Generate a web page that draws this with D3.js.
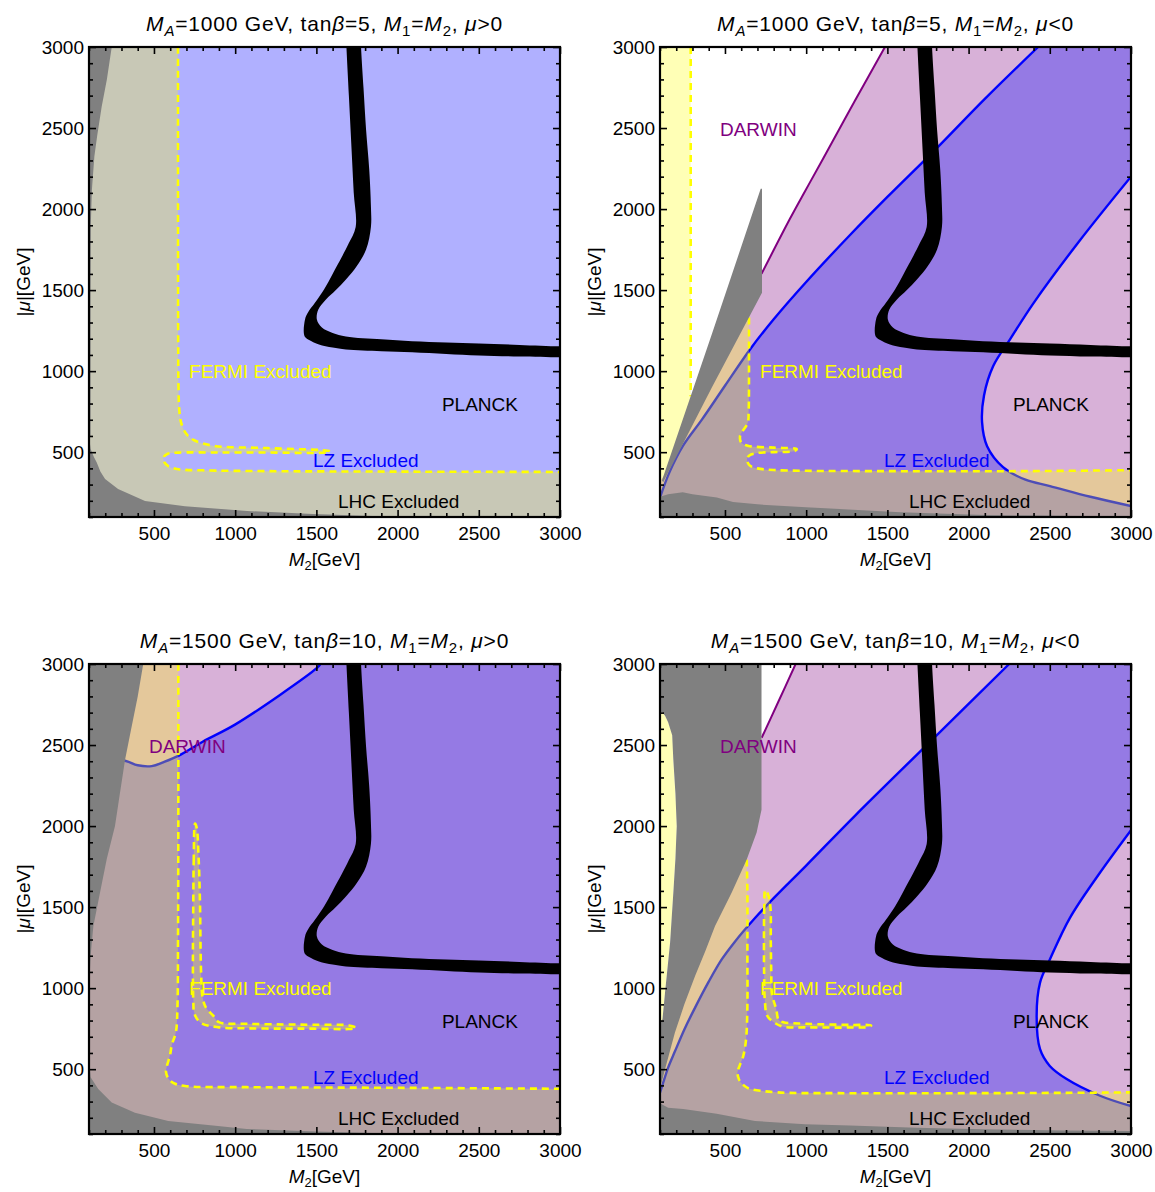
<!DOCTYPE html>
<html><head><meta charset="utf-8">
<script src="https://cdn.jsdelivr.net/npm/d3@7"></script>
<style>body{margin:0;background:#fff} svg{display:block}</style>
</head><body>
<svg id="c" width="1155" height="1192"></svg>
<script>
// ---------- axes ----------
const axisDomain = [100, 3000];
const majorTicks = [500, 1000, 1500, 2000, 2500, 3000];
const minorTicks = d3.range(100, 3001, 100).filter(v => v % 500 !== 0);

// ---------- titles ----------
const titleMA   = ["1000", "1000", "1500", "1500"];
const titleTanB = ["5", "5", "10", "10"];
const titleSign = [">", "<", ">", "<"];

// ---------- shared shapes (M2 [GeV], |mu| [GeV]) ----------
const fullPlane = [[100,100],[3000,100],[3000,3000],[100,3000]];
const planckBand = [[1680,3120],[1685,3000],[1700,2700],[1715,2400],[1730,2100],[1742,1890],[1700,1790],[1658,1707],[1600,1600],[1547,1504],[1490,1420],[1450,1365],[1430,1319],[1428,1214],[1470,1185],[1516,1165],[1600,1146],[1682,1134],[1900,1123],[2089,1116],[2300,1106],[2501,1097],[2750,1090],[3000,1085],[3120,1083],[3120,1152],[3000,1153],[2750,1162],[2501,1171],[2300,1177],[2089,1184],[1900,1196],[1682,1214],[1600,1236],[1534,1270],[1503,1319],[1512,1380],[1559,1442],[1620,1500],[1682,1565],[1750,1650],[1806,1750],[1836,1891],[1836,2015],[1825,2250],[1806,2489],[1790,2750],[1775,3000],[1772,3120]];

// ---------- panel 1: MA=1000, tanb=5, mu>0 ----------
const p1FermiLine = [[648,3000],[648,2000],[649,1200],[651,900],[656,760],[668,680],[700,612],[745,575],[863,540],[1200,525],[1584,506],[1560,498],[1200,498],[900,498],[650,497],[585,490],[560,470],[563,440],[590,412],[650,395],[800,388],[1200,383],[2000,380],[3000,378]];
const p1GrayTop = [[100,3000],[240,3000],[210,2800],[178,2632],[150,2450],[133,2325],[118,2120],[111,1900],[109,1400],[109,900],[109,600],[100,600]];
const p1GrayBottom = [[100,600],[110,520],[130,470],[147,438],[170,380],[199,334],[279,272],[445,198],[691,167],[1073,137],[1480,118],[1890,104],[2100,100],[100,100]];

// ---------- panel 2: MA=1000, tanb=5, mu<0 ----------
const p2FermiStrip = [[289,3000],[289,845]];
const p2FermiHidden = [[450,1080]];
const p2FermiLine = [[648,1331],[648,1000],[646,760],[640,680],[605,625],[593,600],[600,560],[640,540],[800,528],[942,519],[930,508],[800,500],[700,495],[650,480],[636,457],[650,420],[700,400],[800,390],[1000,385],[1500,383],[2000,382],[2500,384],[3000,389]];
const p2DarwinLine = [[1485,3000],[1300,2668],[1104,2310],[993,2110],[900,1940],[725,1600]];
const p2DarwinHidden = [[600,1400],[400,1000],[280,700],[140,380],[100,320]];
const p2LzLeft = [[2428,3000],[2100,2680],[1806,2378],[1500,2075],[1270,1840],[1000,1550],[800,1320],[654,1134],[500,910],[360,704],[242,540],[160,380],[100,220]];
const p2LzRight = [[3000,2200],[2680,1800],[2400,1420],[2255,1196],[2151,1030],[2095,850],[2083,685],[2114,537],[2212,408],[2350,330],[2501,291],[2750,225],[3000,168]];
const p2GrayWedge = [[720,2125],[728,2125],[728,1484],[420,900],[120,314],[112,325],[420,1230]];
const p2GrayBottom = [[100,225],[150,240],[240,252],[300,240],[450,221],[550,192],[700,178],[1000,160],[1580,130],[2100,112],[3000,103],[3000,100],[100,100]];

// ---------- panel 3: MA=1500, tanb=10, mu>0 ----------
const p3FermiLine = [[650,3000],[650,2000],[648,1300],[645,900],[635,728],[610,650],[599,587],[580,520],[574,483],[590,440],[630,410],[700,395],[1071,389],[2000,385],[3000,379]];
const p3FermiIsland = [[753,2015],[745,1800],[742,1500],[740,1200],[742,931],[750,840],[790,785],[900,758],[1071,752],[1300,750],[1481,750],[1700,748],[1745,755],[1700,770],[1481,774],[1300,776],[1071,780],[900,790],[865,830],[820,880],[800,940],[790,1100],[783,1541],[775,1800],[763,1990]];
const p3LzLine = [[100,2420],[200,2412],[322,2403],[400,2375],[486,2370],[560,2395],[650,2433],[800,2520],[999,2626],[1276,2809],[1502,2974],[1525,3000]];
const p3GrayLeft = [[100,3000],[434,3000],[400,2800],[360,2600],[322,2409],[290,2200],[260,2000],[210,1800],[168,1590],[127,1383],[110,1200],[100,1000]];
const p3GrayBottom = [[100,560],[110,450],[157,377],[240,294],[383,231],[588,180],[894,150],[1071,131],[1500,115],[1900,105],[2100,100],[100,100]];

// ---------- panel 4: MA=1500, tanb=10, mu<0 ----------
const p4FermiStripEdge = [[100,2700],[115,2700],[131,2680],[150,2640],[175,2560],[182,2409],[195,2200],[203,1999],[195,1800],[182,1588],[162,1280],[131,973],[115,807]];
const p4FermiHidden = [[200,1000],[330,1300],[480,1600]];
const p4FermiLine = [[634,1793],[638,1600],[638,1200],[638,886],[630,685],[613,582],[590,520],[577,480],[585,440],[598,418],[630,390],[660,377],[824,357],[1200,352],[2000,352],[2600,354],[3000,357]];
const p4FermiIsland = [[748,1605],[742,1500],[740,1300],[741,1100],[745,931],[760,830],[800,790],[859,762],[1000,758],[1270,757],[1380,760],[1400,770],[1270,773],[1000,780],[859,790],[830,805],[816,870],[790,960],[785,1100],[782,1300],[780,1500],[765,1580]];
const p4DarwinLine = [[935,3000],[830,2770],[726,2545]];
const p4DarwinHidden = [[600,2300],[300,1500],[140,700],[100,430]];
const p4LzLeft = [[2250,3000],[1800,2556],[1300,2063],[1000,1756],[800,1555],[674,1420],[560,1285],[480,1177],[400,1040],[316,880],[250,745],[192,610],[150,510],[120,418],[100,355]];
const p4LzRight = [[3000,1975],[2800,1700],[2624,1434],[2501,1178],[2440,1034],[2419,828],[2440,623],[2500,520],[2604,439],[2809,336],[3000,272]];
const p4GrayRightEdge = [[725,3000],[725,2101],[695,1960],[634,1793],[541,1588],[439,1383],[380,1230],[316,1075],[250,900],[192,726],[131,500],[110,418],[100,405]];
const p4GrayBottom = [[100,290],[150,262],[243,254],[449,225],[685,180],[993,160],[1270,152],[1680,138],[2090,130],[2600,122],[3000,118],[3000,100],[100,100]];

// ---------- text labels ----------
const labelNames = ["FERMI Excluded", "PLANCK", "LZ Excluded", "LHC Excluded", "DARWIN"];
const labelPos = [[716,956],[2273,756],[1479,408],[1633,156],[469,2452]];
const labelColors = ["#ffff00", "#000000", "#0000ff", "#000000", "#800080"];

// ---------- build panels (regions are lists of [points, smooth?] segments) ----------
const panels = [
  { darwin: null,
    lz: [[fullPlane, false]],
    darwinLines: [], lzLines: [],
    fermi: [[[p1FermiLine, true], [[[3000,100],[100,100],[100,3000]], false]]],
    fermiDashed: [p1FermiLine], islands: [],
    gray: [p1GrayTop, p1GrayBottom], labels: [0,1,2,3] },
  { darwin: [[p2DarwinLine.concat(p2DarwinHidden), true], [[[100,100],[3000,100],[3000,3000]], false]],
    lz: [[p2LzLeft, true], [[[100,100],[3000,100]], false], [p2LzRight.slice().reverse(), true], [[[3000,3000]], false]],
    darwinLines: [p2DarwinLine], lzLines: [p2LzLeft, p2LzRight],
    fermi: [[[[[100,3000]].concat(p2FermiStrip, p2FermiHidden), false], [p2FermiLine, true], [[[3000,100],[100,100]], false]]],
    fermiDashed: [p2FermiStrip, p2FermiLine], islands: [],
    gray: [p2GrayWedge, p2GrayBottom], labels: [0,1,2,3,4] },
  { darwin: [[fullPlane, false]],
    lz: [[p3LzLine, true], [[[3000,3000],[3000,100],[100,100]], false]],
    darwinLines: [], lzLines: [p3LzLine],
    fermi: [[[p3FermiLine, true], [[[3000,100],[100,100],[100,3000]], false]]],
    fermiDashed: [p3FermiLine], islands: [p3FermiIsland],
    gray: [p3GrayLeft, p3GrayBottom], labels: [0,1,2,3,4] },
  { darwin: [[p4DarwinLine.concat(p4DarwinHidden), true], [[[100,100],[3000,100],[3000,3000]], false]],
    lz: [[p4LzLeft, true], [[[100,100],[3000,100]], false], [p4LzRight.slice().reverse(), true], [[[3000,3000]], false]],
    darwinLines: [p4DarwinLine], lzLines: [p4LzLeft, p4LzRight],
    fermi: [[[p4FermiStripEdge, true], [p4FermiHidden, false], [p4FermiLine, true], [[[3000,100],[100,100]], false]]],
    fermiDashed: [p4FermiLine], islands: [p4FermiIsland],
    gray: [[[100,3000]].concat(p4GrayRightEdge, [[100,790]], p4FermiStripEdge.slice().reverse()), p4GrayBottom],
    labels: [0,1,2,3,4] }
];

const PINK = "#d8b1d8", LZFILL = "rgba(0,0,255,0.31)", FERMIFILL = "rgba(255,255,13,0.3)", GRAY = "#808080";
const FONT = '"Liberation Sans", Arial, Helvetica, sans-serif';
const PW = 471, PH = 470;
const layout = [{x:89,y:47},{x:660,y:47},{x:89,y:664},{x:660,y:664}];
const svg = d3.select('#c').style('font-family', FONT);
const defs = svg.append('defs');
const smooth = d3.curveCatmullRom.alpha(0.5);
const smoothClosed = d3.curveCatmullRomClosed.alpha(0.5);

panels.forEach((p, i) => {
  const L = layout[i];
  const g = svg.append('g').attr('transform', `translate(${L.x},${L.y})`);
  const x = d3.scaleLinear().domain(axisDomain).range([0, PW]);
  const y = d3.scaleLinear().domain(axisDomain).range([PH, 0]);
  const sLine = d3.line().curve(smooth).x(d => x(d[0])).y(d => y(d[1]));
  const pLine = d3.line().x(d => x(d[0])).y(d => y(d[1]));
  const cLine = d3.line().curve(smoothClosed).x(d => x(d[0])).y(d => y(d[1]));
  const poly = pts => pLine(pts) + 'Z';
  const region = segs => segs.map((s, k) => {
    const d = (s[1] ? sLine : pLine)(s[0]);
    return k === 0 ? d : 'L' + d.slice(1);
  }).join('') + 'Z';

  defs.append('clipPath').attr('id', 'clip' + i)
    .append('rect').attr('x', 0).attr('y', 0).attr('width', PW).attr('height', PH);
  const c = g.append('g').attr('clip-path', `url(#clip${i})`);
  c.append('path').attr('d', poly(fullPlane)).attr('fill', '#fff');
  if (p.darwin) c.append('path').attr('d', region(p.darwin)).attr('fill', PINK);
  if (p.lz) c.append('path').attr('d', region(p.lz)).attr('fill', LZFILL);
  p.darwinLines.forEach(l => c.append('path').attr('d', sLine(l)).attr('fill', 'none')
    .attr('stroke', '#800080').attr('stroke-width', 2));
  p.lzLines.forEach(l => c.append('path').attr('d', sLine(l)).attr('fill', 'none')
    .attr('stroke', '#0000ff').attr('stroke-width', 2.4));
  p.fermi.forEach(f => c.append('path').attr('d', region(f)).attr('fill', FERMIFILL));
  p.islands.forEach(f => c.append('path').attr('d', cLine(f)).attr('fill', FERMIFILL));
  p.fermiDashed.forEach(l => c.append('path').attr('d', sLine(l)).attr('fill', 'none')
    .attr('stroke', '#ffff00').attr('stroke-width', 2.6).attr('stroke-dasharray', '7,5'));
  p.islands.forEach(l => c.append('path').attr('d', cLine(l)).attr('fill', 'none')
    .attr('stroke', '#ffff00').attr('stroke-width', 2.6).attr('stroke-dasharray', '7,5'));
  p.gray.forEach(f => c.append('path').attr('d', poly(f)).attr('fill', GRAY));
  c.append('path').attr('d', cLine(planckBand)).attr('fill', '#000');

  p.labels.forEach(k => g.append('text')
    .attr('x', x(labelPos[k][0])).attr('y', y(labelPos[k][1]))
    .attr('font-size', 19).attr('fill', labelColors[k]).text(labelNames[k]));

  // axes (ticks inward on all four sides)
  const mk = (gen, size, pad, labels) => gen.tickSize(size).tickPadding(pad)
    .tickFormat(labels ? d3.format('d') : () => '');
  const addAxis = (gen, tr) => {
    const a = g.append('g').attr('transform', tr).call(gen);
    a.select('.domain').remove();
    a.selectAll('line').attr('stroke', '#000').attr('stroke-width', 1.6);
    a.selectAll('text').attr('font-size', 19).attr('fill', '#000').attr('font-family', FONT);
    return a;
  };
  addAxis(mk(d3.axisBottom(x).tickValues(majorTicks), -7, 9.5, true), `translate(0,${PH})`);
  addAxis(mk(d3.axisBottom(x).tickValues(minorTicks), -4, 0, false), `translate(0,${PH})`);
  addAxis(mk(d3.axisTop(x).tickValues(majorTicks), -7, 0, false), `translate(0,0)`);
  addAxis(mk(d3.axisTop(x).tickValues(minorTicks), -4, 0, false), `translate(0,0)`);
  addAxis(mk(d3.axisLeft(y).tickValues(majorTicks), -7, 5, true), `translate(0,0)`);
  addAxis(mk(d3.axisLeft(y).tickValues(minorTicks), -4, 0, false), `translate(0,0)`);
  addAxis(mk(d3.axisRight(y).tickValues(majorTicks), -7, 0, false), `translate(${PW},0)`);
  addAxis(mk(d3.axisRight(y).tickValues(minorTicks), -4, 0, false), `translate(${PW},0)`);

  g.append('rect').attr('x', 0).attr('y', 0).attr('width', PW).attr('height', PH)
    .attr('fill', 'none').attr('stroke', '#000').attr('stroke-width', 2.2);

  // title
  const t = g.append('text').attr('x', PW / 2).attr('y', -16).attr('text-anchor', 'middle')
    .attr('font-size', 21).attr('letter-spacing', 0.8).attr('fill', '#000');
  t.append('tspan').attr('font-style', 'italic').text('M');
  t.append('tspan').attr('font-style', 'italic').attr('font-size', 15).attr('dy', 5).text('A');
  t.append('tspan').attr('dy', -5).text(`=${titleMA[i]} GeV, tan`);
  t.append('tspan').attr('font-style', 'italic').text('β');
  t.append('tspan').text(`=${titleTanB[i]}, `);
  t.append('tspan').attr('font-style', 'italic').text('M');
  t.append('tspan').attr('font-size', 15).attr('dy', 5).text('1');
  t.append('tspan').attr('dy', -5).text('=');
  t.append('tspan').attr('font-style', 'italic').text('M');
  t.append('tspan').attr('font-size', 15).attr('dy', 5).text('2');
  t.append('tspan').attr('dy', -5).text(', ');
  t.append('tspan').attr('font-style', 'italic').text('μ');
  t.append('tspan').text(`${titleSign[i]}0`);

  // x label
  const xl = g.append('text').attr('x', PW / 2).attr('y', PH + 49).attr('text-anchor', 'middle')
    .attr('font-size', 19);
  xl.append('tspan').attr('font-style', 'italic').text('M');
  xl.append('tspan').attr('font-size', 13).attr('dy', 4).text('2');
  xl.append('tspan').attr('dy', -4).text('[GeV]');

  // y label
  const yl = g.append('text').attr('transform', `translate(-59,${PH / 2}) rotate(-90)`)
    .attr('text-anchor', 'middle').attr('font-size', 19);
  yl.append('tspan').text('|');
  yl.append('tspan').attr('font-style', 'italic').text('μ');
  yl.append('tspan').text('|[GeV]');
});
</script>
</body></html>
